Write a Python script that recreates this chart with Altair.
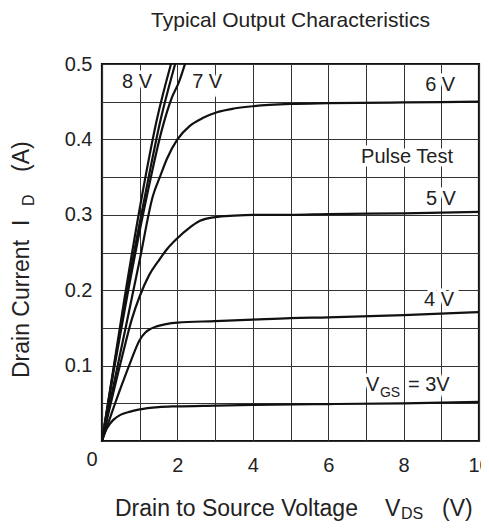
import altair as alt
import pandas as pd

# ---- curve data ----
vds_3 = [0, 0.05, 0.1, 0.2, 0.3, 0.5, 0.75, 1.0, 1.5, 2, 3, 4, 6, 8, 10]
id_3 = [0, 0.008, 0.014, 0.022, 0.028, 0.035, 0.039, 0.042, 0.045, 0.046, 0.047, 0.048, 0.049, 0.050, 0.052]

vds_4 = [0, 0.25, 0.5, 0.75, 1.0, 1.15, 1.3, 1.45, 1.7, 2, 3, 4, 5, 6, 8, 10]
id_4 = [0, 0.036, 0.071, 0.104, 0.134, 0.144, 0.149, 0.152, 0.155, 0.157, 0.159, 0.161, 0.163, 0.164, 0.167, 0.171]

vds_5 = [0, 0.5, 0.8, 1.0, 1.25, 1.5, 1.75, 2.0, 2.3, 2.6, 3.0, 3.5, 4, 5, 6, 8, 10]
id_5 = [0, 0.105, 0.163, 0.192, 0.220, 0.239, 0.256, 0.269, 0.282, 0.292, 0.297, 0.299, 0.300, 0.300, 0.301, 0.302, 0.304]

vds_6 = [0, 0.5, 1.0, 1.35, 1.55, 1.72, 2.0, 2.33, 2.7, 3.05, 3.5, 4, 5, 6, 8, 10]
id_6 = [0, 0.12, 0.24, 0.325, 0.352, 0.374, 0.400, 0.418, 0.429, 0.436, 0.441, 0.444, 0.447, 0.448, 0.449, 0.450]

vds_7 = [0, 0.3, 0.66, 1.19, 1.6, 1.85, 2.04, 2.2]
id_7 = [0, 0.09, 0.19, 0.325, 0.415, 0.455, 0.476, 0.5]

vds_8 = [0, 0.3, 0.6, 1.06, 1.45, 1.83]
id_8 = [0, 0.095, 0.19, 0.325, 0.425, 0.5]

vds_8b = [0, 0.3, 0.63, 1.14, 1.55, 1.94]
id_8b = [0, 0.093, 0.19, 0.325, 0.425, 0.5]

curves = [("3V", vds_3, id_3), ("4V", vds_4, id_4), ("5V", vds_5, id_5),
          ("6V", vds_6, id_6), ("7V", vds_7, id_7), ("8V", vds_8, id_8),
          ("8Vb", vds_8b, id_8b)]

rows = []
for name, xs, ys in curves:
    for xv, yv in zip(xs, ys):
        rows.append({"curve": name, "vds": xv, "id": yv})
df = pd.DataFrame(rows)

# ---- curve labels ----
label_text = ["8 V", "7 V", "6 V", "Pulse Test", "5 V", "4 V"]
label_vds = [0.93, 2.79, 8.97, 8.09, 8.99, 8.94]
label_id = [0.476, 0.476, 0.472, 0.377, 0.321, 0.187]
labels = pd.DataFrame({"text": label_text, "vds": label_vds, "id": label_id})

vgs_parts = pd.DataFrame({"vds": [7.0], "id": [0.066]})

FONT = "Liberation Sans"
TXT = "#222222"
W = H = 377

x_scale = alt.Scale(domain=[0, 10], nice=False, zero=False)
y_scale = alt.Scale(domain=[0, 0.5], nice=False, zero=False)

x_axis = alt.Axis(values=list(range(11)), format="d",
                  labelExpr="datum.value > 0 && datum.value % 2 == 0 ? datum.label : ''",
                  title=None, ticks=False, domain=False, grid=True,
                  labelPadding=14, labelFontSize=20, labelFont=FONT, labelColor=TXT,
                  gridColor="#333333", gridWidth=1, labelFlush=False, labelOverlap=False)
y_axis = alt.Axis(values=[round(i * 0.05, 2) for i in range(11)], format=".1f",
                  labelExpr="datum.value > 0.01 && round(datum.value * 100) % 10 == 0 ? datum.label : ''",
                  title=None, ticks=False, domain=False, grid=True,
                  labelPadding=10, labelFontSize=20, labelFont=FONT, labelColor=TXT,
                  gridColor="#333333", gridWidth=1, labelFlush=False, labelOverlap=False)

X = alt.X("vds:Q", scale=x_scale, axis=x_axis)
Y = alt.Y("id:Q", scale=y_scale, axis=y_axis)

halo = alt.Chart(labels).mark_text(font=FONT, fontSize=20, stroke="white", strokeWidth=7,
                                   fill="white", align="center", baseline="middle").encode(
    x=X, y=Y, text="text:N")

lines = alt.Chart(df).mark_line(color="#111111", strokeWidth=2.2, interpolate="monotone").encode(
    x=X, y=Y, detail="curve:N")

label_marks = alt.Chart(labels).mark_text(font=FONT, fontSize=20, color=TXT,
                                          align="center", baseline="middle").encode(
    x=X, y=Y, text="text:N")

# V_GS = 3V with subscript
def vgs_piece(txt, dx, dy, size, halo_on):
    kw = dict(font=FONT, fontSize=size, align="left", baseline="alphabetic", dx=dx, dy=dy, text=txt)
    if halo_on:
        kw.update(stroke="white", strokeWidth=7, fill="white")
    else:
        kw.update(color=TXT)
    return alt.Chart(vgs_parts).mark_text(**kw).encode(x=X, y=Y)

vgs_halo = [vgs_piece("V", 0, 0, 20, True), vgs_piece("GS", 14, 6, 14, True), vgs_piece("= 3V", 42, 0, 20, True)]
vgs_txt = [vgs_piece("V", 0, 0, 20, False), vgs_piece("GS", 14, 6, 14, False), vgs_piece("= 3V", 42, 0, 20, False)]

one = pd.DataFrame({"k": [0]})

def ptext(txt, px, py, size, angle=0, align="left", baseline="alphabetic"):
    kw = dict(font=FONT, fontSize=size, color=TXT, align=align, baseline=baseline, text=txt)
    if angle:
        kw["angle"] = angle
    return alt.Chart(one).mark_text(**kw).encode(x=alt.value(px), y=alt.value(py))

titles = [
    ptext("Typical Output Characteristics", W / 2, -37, 21, align="center"),
    ptext("0", -10, 396, 20, align="center", baseline="middle"),
    ptext("Drain to Source Voltage", 13, 452, 23),
    ptext("V", 283, 452, 23),
    ptext("DS", 299, 455, 16),
    ptext("(V)", 340, 452, 23),
    ptext("Drain Current", -73, 314, 23, angle=270),
    ptext("I", -73, 162, 23, angle=270),
    ptext("D", -68, 142, 16, angle=270),
    ptext("(A)", -73, 108, 23, angle=270),
]

chart = alt.layer(halo, *vgs_halo, lines, label_marks, *vgs_txt, *titles).properties(
    width=W, height=H,
    autosize=alt.AutoSizeParams(type="none"),
    padding={"left": 94, "top": 56, "right": 2, "bottom": 82},
).configure_view(stroke="#111111", strokeWidth=2.2)

chart.save("out.html", embed_options={"renderer": "svg", "actions": False})
